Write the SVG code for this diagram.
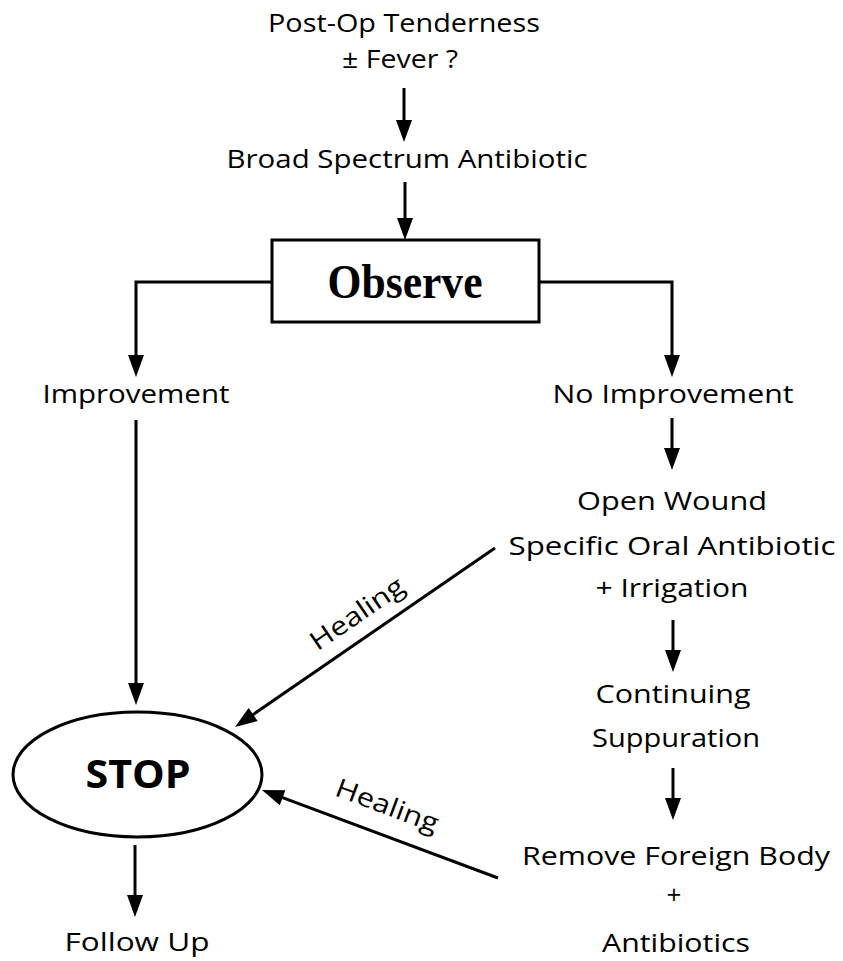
<svg xmlns="http://www.w3.org/2000/svg" width="843" height="961" viewBox="0 0 843 961">
  <style>
    .t { font-family: "Open Sans", "Liberation Sans", sans-serif; font-size: 26px; fill: #000; text-anchor: middle; }
    .b { font-family: "Open Sans", "Liberation Sans", sans-serif; font-weight: bold; fill: #000; text-anchor: middle; }
    .bs { font-family: "Liberation Serif", "Times New Roman", serif; font-weight: bold; fill: #000; text-anchor: middle; }
    .arr { fill: none; stroke: #000; stroke-width: 3; marker-end: url(#head); }
    .shape { fill: #fff; stroke: #000; stroke-width: 3; }
  </style>
  <defs>
    <marker id="head" markerUnits="userSpaceOnUse" markerWidth="24" markerHeight="18" refX="10" refY="8" orient="auto" overflow="visible">
      <path d="M0,0 L22,8 L0,16 Z" fill="#000"/>
    </marker>
  </defs>
  <rect width="843" height="961" fill="#fff"/>

  <!-- connectors -->
  <g id="connectors">
    <line class="arr" x1="404" y1="88" x2="404" y2="130"/>
    <line class="arr" x1="405" y1="182" x2="405" y2="228"/>
    <path class="arr" d="M272,282 H136 V365"/>
    <path class="arr" d="M539,282 H672 V365"/>
    <line class="arr" x1="136" y1="420" x2="136" y2="693"/>
    <line class="arr" x1="672" y1="418" x2="672" y2="458"/>
    <line class="arr" x1="673" y1="620" x2="673" y2="660"/>
    <line class="arr" x1="673" y1="768" x2="673" y2="808"/>
    <line class="arr" x1="135" y1="845" x2="135" y2="905"/>
    <!-- healing paths back to STOP -->
    <line class="arr" x1="495" y1="548" x2="244.9" y2="720.2"/>
    <line class="arr" x1="498" y1="878" x2="273.2" y2="794.2"/>
    <text class="t" x="362" y="621" textLength="108" lengthAdjust="spacingAndGlyphs" transform="rotate(-34.5 362 621)">Healing</text>
    <text class="t" x="384" y="814" textLength="108" lengthAdjust="spacingAndGlyphs" transform="rotate(20.5 384 814)">Healing</text>
  </g>

  <g id="start">
    <text class="t" x="404" y="32" textLength="272" lengthAdjust="spacingAndGlyphs">Post-Op Tenderness</text>
    <text class="t" x="400" y="68" textLength="116" lengthAdjust="spacingAndGlyphs">± Fever ?</text>
  </g>

  <g id="antibiotic">
    <text class="t" x="407" y="168" textLength="361" lengthAdjust="spacingAndGlyphs">Broad Spectrum Antibiotic</text>
  </g>

  <g id="observe">
    <rect class="shape" x="272" y="240" width="267" height="82"/>
    <text class="bs" x="405" y="298" font-size="48" textLength="155" lengthAdjust="spacingAndGlyphs">Observe</text>
  </g>

  <g id="improvement">
    <text class="t" x="136" y="403" textLength="187" lengthAdjust="spacingAndGlyphs">Improvement</text>
  </g>

  <g id="no-improvement">
    <text class="t" x="673" y="403" textLength="241" lengthAdjust="spacingAndGlyphs">No Improvement</text>
  </g>

  <g id="open-wound">
    <text class="t" x="672" y="510" textLength="190" lengthAdjust="spacingAndGlyphs">Open Wound</text>
    <text class="t" x="672" y="555" textLength="327" lengthAdjust="spacingAndGlyphs">Specific Oral Antibiotic</text>
    <text class="t" x="672" y="597" textLength="153" lengthAdjust="spacingAndGlyphs">+ Irrigation</text>
  </g>

  <g id="suppuration">
    <text class="t" x="673" y="703" textLength="155" lengthAdjust="spacingAndGlyphs">Continuing</text>
    <text class="t" x="676" y="747" textLength="168" lengthAdjust="spacingAndGlyphs">Suppuration</text>
  </g>

  <g id="remove-foreign-body">
    <text class="t" x="676" y="865" textLength="308" lengthAdjust="spacingAndGlyphs">Remove Foreign Body</text>
    <text class="t" x="674" y="904" font-size="30">+</text>
    <text class="t" x="676" y="952" textLength="148" lengthAdjust="spacingAndGlyphs">Antibiotics</text>
  </g>

  <g id="stop">
    <ellipse class="shape" cx="137.5" cy="774.5" rx="124.5" ry="62.5"/>
    <text class="b" x="138" y="788" font-size="40" textLength="105" lengthAdjust="spacingAndGlyphs">STOP</text>
  </g>

  <g id="follow-up">
    <text class="t" x="137" y="951" textLength="145" lengthAdjust="spacingAndGlyphs">Follow Up</text>
  </g>
</svg>
